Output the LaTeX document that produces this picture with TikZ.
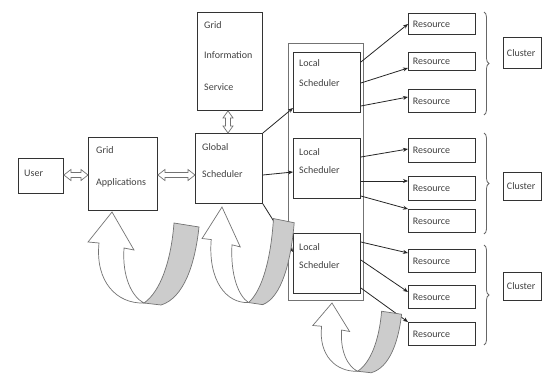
\documentclass[tikz,border=0pt]{standalone}
\usepackage{fontspec}
\setmainfont{Carlito}
\usetikzlibrary{calc,decorations.pathreplacing,arrows.meta}

\newcommand{\uturnarrow}[4]{%
 \begin{scope}[shift={(#1,#2)},xscale=#3,yscale=#4]
  \draw[dbl] (0,0) -- (22,38) -- (12,36) .. controls (10,65) and (20,85) .. (32,91)
     .. controls (5,92) and (-17,70) .. (-13,31) -- (-24,30) -- cycle;
  \draw[dbl, fill=black!20] (62,11) -- (87,15) .. controls (83,52) and (72,86) .. (49,93)
     -- (32,91) .. controls (48,80) and (59,50) .. (62,11) -- cycle;
 \end{scope}}

\newcommand{\hdbl}[3]{%
 \path[dbl] let \p1=(#1), \p2=(#2) in
  (\x1,#3) -- (\x1+7pt,#3-5.5) -- (\x1+7pt,#3-2.5) -- (\x2-7pt,#3-2.5) -- (\x2-7pt,#3-5.5)
  -- (\x2,#3) -- (\x2-7pt,#3+5.5) -- (\x2-7pt,#3+2.5) -- (\x1+7pt,#3+2.5) -- (\x1+7pt,#3+5.5) -- cycle;}

\newcommand{\vdbl}[3]{%
 \path[dbl] let \p1=(#1), \p2=(#2) in
  (#3,\y1) -- (#3-5,\y1-7pt) -- (#3-2.5,\y1-7pt) -- (#3-2.5,\y2+7pt) -- (#3-5,\y2+7pt)
  -- (#3,\y2) -- (#3+5,\y2+7pt) -- (#3+2.5,\y2+7pt) -- (#3+2.5,\y1-7pt) -- (#3+5,\y1-7pt) -- cycle;}

\begin{document}
\begin{tikzpicture}[x=1pt,y=-1pt,
  box/.style={draw=black!80, line width=0.9pt, rectangle, inner sep=0pt, anchor=north west},
  txt/.style={font=\fontsize{10}{12}\selectfont, text=black!75, inner sep=0pt, anchor=west},
  rbox/.style={box, minimum height=#1, text width=58pt, inner xsep=4.5pt, inner ysep=0pt,
     align=left, font=\fontsize{10}{12}\selectfont, text=black!75},
  cbox/.style={box, minimum height=#1, text width=31pt, inner xsep=3.5pt, inner ysep=0pt,
     align=left, font=\fontsize{10}{12}\selectfont, text=black!75},
  conn/.style={draw=black!85, line width=0.8pt, -{Stealth[length=5pt,width=4pt]}},
  dbl/.style={draw=black!55, fill=white, line width=0.7pt},
  brc/.style={draw=black!60, line width=0.8pt, decorate, decoration={brace, amplitude=5pt}},
  ]
\useasboundingbox (0,0) rectangle (544,375);

% left boxes
\node[box, minimum width=45pt, minimum height=35pt] (user) at (18,158) {};
\node[txt] (userT) at (24,173) {User};
\node[box, minimum width=69pt, minimum height=73pt] (ga) at (88,137) {};
\node[txt] (gaT1) at (96,150) {Grid};
\node[txt] (gaT2) at (96,183) {Applications};
\node[box, minimum width=65pt, minimum height=98pt] (gis) at (197,12) {};
\node[txt] (gisT1) at (204,25) {Grid};
\node[txt] (gisT2) at (204,55) {Information};
\node[txt] (gisT3) at (204,87) {Service};
\node[box, minimum width=67pt, minimum height=70pt] (gs) at (195,133) {};
\node[txt] (gsT1) at (202,147) {Global};
\node[txt] (gsT2) at (202,174) {Scheduler};

% container and local schedulers
\node[box, draw=black!55, line width=0.7pt, minimum width=75pt, minimum height=257pt] (cont) at (288,43) {};
\node[box, minimum width=67pt, minimum height=60pt] (ls1) at (293,52) {};
\node[txt] (ls1T1) at (299,63) {Local};
\node[txt] (ls1T2) at (299,83) {Scheduler};
\node[box, minimum width=67pt, minimum height=60pt] (ls2) at (293,138) {};
\node[txt] (ls2T1) at (299,152) {Local};
\node[txt] (ls2T2) at (299,170) {Scheduler};
\node[box, minimum width=67pt, minimum height=60pt] (ls3) at (293,233) {};
\node[txt] (ls3T1) at (299,247) {Local};
\node[txt] (ls3T2) at (299,265) {Scheduler};

% resources
\node[rbox=21pt] (r1) at (408,13) {Resource};
\node[rbox=18pt] (r2) at (408,52) {Resource};
\node[rbox=23pt] (r3) at (408,89) {Resource};
\node[rbox=24pt] (r4) at (408,138) {Resource};
\node[rbox=24pt] (r5) at (408,176) {Resource};
\node[rbox=23pt] (r6) at (408,209) {Resource};
\node[rbox=23pt] (r7) at (408,249) {Resource};
\node[rbox=23pt] (r8) at (408,285) {Resource};
\node[rbox=23pt] (r9) at (408,322) {Resource};

% clusters
\node[cbox=31pt] (c1) at (503,37) {Cluster};
\node[cbox=28pt] (c2) at (503,172) {Cluster};
\node[cbox=28pt] (c3) at (503,272) {Cluster};

% braces
\coordinate (b1a) at (484,12);  \coordinate (b1b) at (484,115);
\coordinate (b2a) at (484,133); \coordinate (b2b) at (484,234);
\coordinate (b3a) at (484,245); \coordinate (b3b) at (484,345);
\draw[brc] (b1a) -- (b1b);
\draw[brc] (b2a) -- (b2b);
\draw[brc] (b3a) -- (b3b);

% double arrows
\hdbl{user.east}{ga.west}{175}
\hdbl{ga.east}{gs.west}{175}
\vdbl{gis.south}{gs.north}{228}

% global -> local
\draw[conn] (gs.north east) -- ($(ls1.north west)+(0,56)$);
\draw[conn] ($(gs.north east)+(0,42)$) -- ($(ls2.north west)+(0,34)$);
\draw[conn] (gs.south east) -- ($(ls3.north west)+(0,19)$);

% local -> resources
\draw[conn] ($(ls1.north east)+(0,10)$) -- ($(r1.north west)+(0,11)$);
\draw[conn] ($(ls1.north east)+(0,31)$) -- ($(r2.north west)+(0,16)$);
\draw[conn] ($(ls1.north east)+(0,54)$) -- ($(r3.north west)+(0,8)$);
\draw[conn] ($(ls2.north east)+(0,19)$) -- ($(r4.north west)+(0,11)$);
\draw[conn] ($(ls2.north east)+(0,43)$) -- ($(r5.north west)+(0,5)$);
\draw[conn] ($(ls2.north east)+(0,58)$) -- (r6.north west);
\draw[conn] ($(ls3.north east)+(0,9)$) -- ($(r7.north west)+(0,4)$);
\draw[conn] ($(ls3.north east)+(0,27)$) -- ($(r8.north west)+(0,7)$);
\draw[conn] ($(ls3.north east)+(0,55)$) -- (r9.north west);

% curved u-turn arrows
\uturnarrow{112}{212}{1}{1}
\uturnarrow{222}{207}{0.83}{1.05}
\uturnarrow{332}{303}{0.8}{0.75}
\end{tikzpicture}
\end{document}
